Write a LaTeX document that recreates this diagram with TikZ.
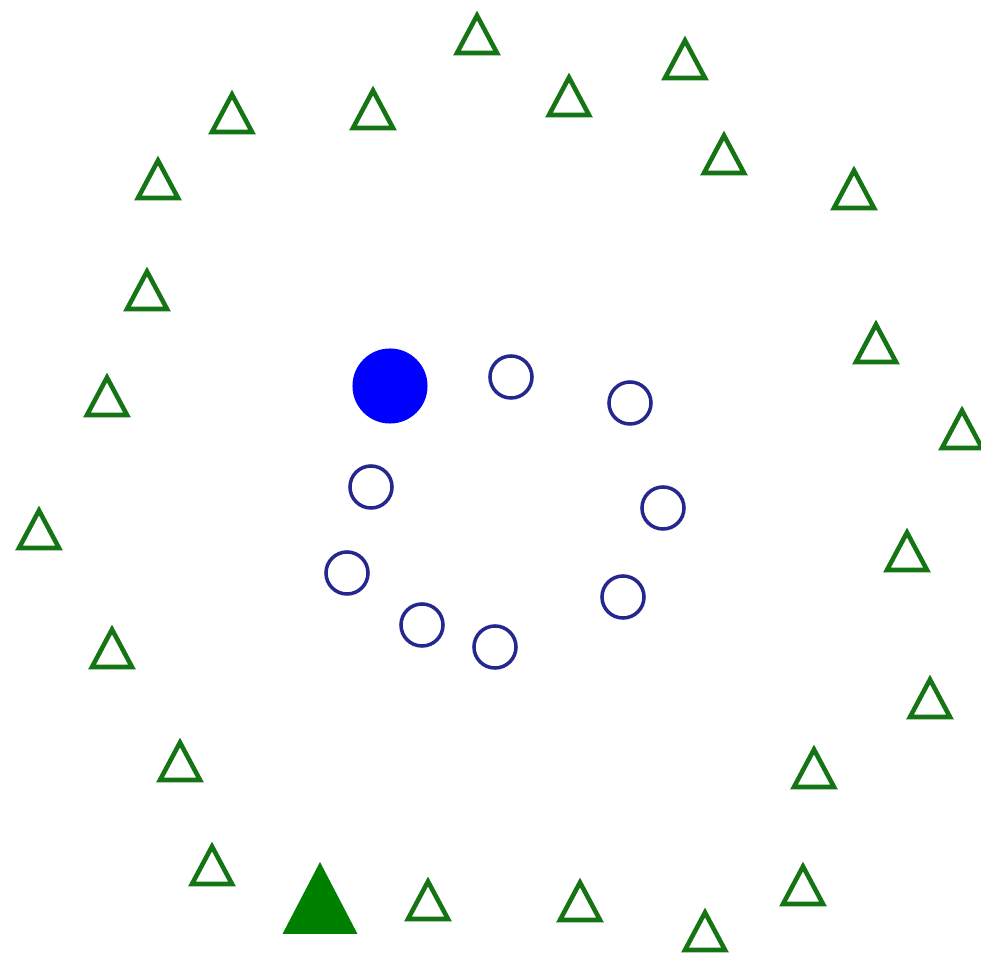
\documentclass[tikz,border=0pt]{standalone}
\usepackage{xcolor}
\definecolor{class-green}{HTML}{157515}
\definecolor{class-green-fill}{HTML}{008000}
\definecolor{class-blue}{HTML}{0000FF}
\definecolor{class-navy}{HTML}{26268F}

\begin{document}
\begin{tikzpicture}[x=0.01cm, y=-0.01cm,
        opentri/.style={draw=class-green, line width=1.3pt, line join=miter},
        filltri/.style={fill=class-green-fill},
        opendot/.style={circle, draw=class-navy, line width=1pt,
            minimum size=4.2mm, inner sep=0pt},
        filldot/.style={circle, fill=class-blue,
            minimum size=7.5mm, inner sep=0pt}]
  \fill[white] (0,0) rectangle (981,961);
  \useasboundingbox (0,0) rectangle (981,961);
  % outer class: open triangles
  \foreach \x/\y in {477/33, 685/58, 232/112, 373/108, 569/95, 724/153,
                     158/178, 854/188, 147/289, 876/342, 107/395, 962/428,
                     39/528, 907/550, 112/647, 930/697, 180/760, 814/767,
                     212/864, 428/899, 580/900, 803/884, 705/930}
    \draw[opentri] (\x,\y) ++(0,-17.5) -- ++(20,37.5) -- ++(-40,0) -- cycle;
  % query point of the outer class
  \fill[filltri] (320,898) ++(0,-36) -- ++(37.5,72) -- ++(-75,0) -- cycle;
  % inner class: open circles
  \foreach \x/\y [count=\i] in {511/377, 630/403, 371/487, 663/508,
                                347/573, 623/597, 422/625, 495/647}
    \node[opendot] (dot\i) at (\x,\y) {};
  % query point of the inner class
  \node[filldot] (query) at (390,386) {};
\end{tikzpicture}
\end{document}
